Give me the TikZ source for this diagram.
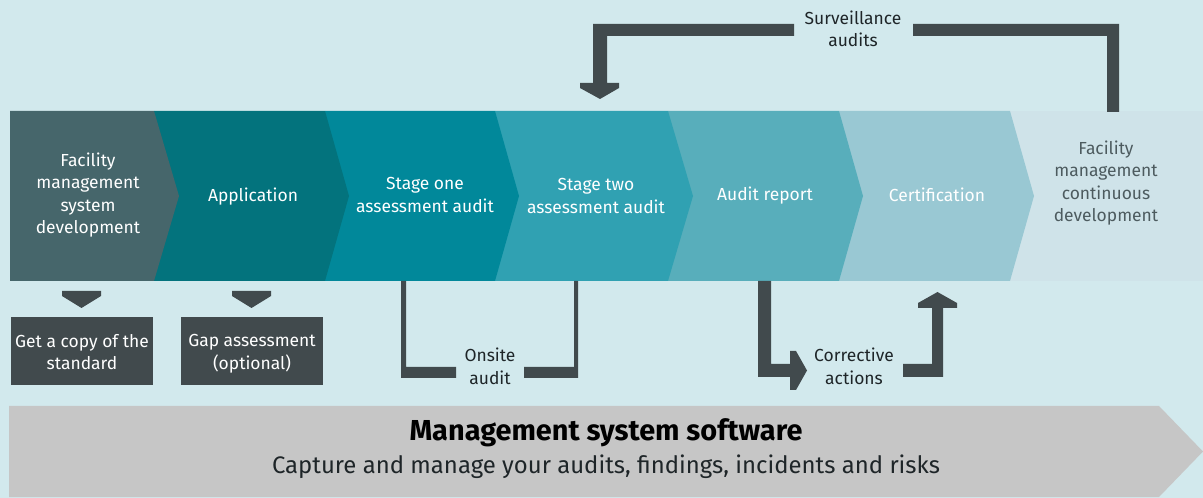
\documentclass[tikz,border=0pt]{standalone}
\usepackage{fontspec}
\setmainfont{Fira Sans}
\definecolor{bg}{HTML}{D2E9ED}
\definecolor{cA}{HTML}{46666B}
\definecolor{cB}{HTML}{03737D}
\definecolor{cC}{HTML}{01889A}
\definecolor{cD}{HTML}{30A1B2}
\definecolor{cE}{HTML}{58AEBB}
\definecolor{cF}{HTML}{99C8D3}
\definecolor{cG}{HTML}{CFE3E9}
\definecolor{darkbar}{HTML}{414A4D}
\definecolor{softgray}{HTML}{C6C6C6}
\definecolor{lasttext}{HTML}{4D5B5F}
\definecolor{labeltext}{HTML}{1E2528}
\begin{document}
\begin{tikzpicture}[x=1bp,y=-1bp,
  lbl/.style={inner sep=0pt,align=center,font=\fontsize{17.5}{22.7}\selectfont},
  wlbl/.style={lbl,text=white},
  boxlbl/.style={lbl,text=white},
  conlbl/.style={lbl,text=labeltext},
  barfill/.style={fill=darkbar}]
\useasboundingbox (0,0) rectangle (1203,498);
\fill[bg] (0,0) rectangle (1203,498);
% chevron band (drawn right to left)
\fill[cG] (1010,111) -- (1203,111) -- (1203,281) -- (1010,281) -- cycle;
\fill[cF] (839,111) -- (1010,111) -- (1034,196) -- (1010,281) -- (839,281) -- cycle;
\fill[cE] (668,111) -- (839,111) -- (863,196) -- (839,281) -- (668,281) -- cycle;
\fill[cD] (495,111) -- (668,111) -- (693,196) -- (668,281) -- (495,281) -- cycle;
\fill[cC] (325,111) -- (495,111) -- (519,196) -- (495,281) -- (325,281) -- cycle;
\fill[cB] (154,111) -- (325,111) -- (349,196) -- (325,281) -- (154,281) -- cycle;
\fill[cA] (10,111) -- (154,111) -- (179,196) -- (154,281) -- (10,281) -- cycle;
% stage labels
\node[wlbl] (t1) at (88,195) {Facility\\management\\system\\development};
\node[wlbl] (t2) at (253,197) {Application};
\node[wlbl] (t3) at (425,195) {Stage one\\assessment audit};
\node[wlbl] (t4) at (596,196) {Stage two\\assessment audit};
\node[wlbl] (t5) at (765,196) {Audit report};
\node[wlbl] (t6) at (937,195) {Certification};
\node[lbl,text=lasttext] (t7) at (1106,183) {Facility\\management\\continuous\\development};
% small down arrows and boxes
\fill[darkbar] (62,291) -- (101,291) -- (101,296) -- (81.5,308) -- (62,296) -- cycle;
\fill[darkbar] (232,291) -- (271,291) -- (271,296) -- (251.5,308) -- (232,296) -- cycle;
\node[fill=darkbar,minimum width=142bp,minimum height=68bp,inner sep=0pt] (b1) at (82,351) {};
\node[fill=darkbar,minimum width=142bp,minimum height=68bp,inner sep=0pt] (b2) at (252,351) {};
\node[boxlbl] (b1t) at ([yshift=-1bp]b1.center) {Get a copy of the\\standard};
\node[boxlbl] (b2t) at ([yshift=-3bp]b2.center) {Gap assessment\\(optional)};
% onsite audit bracket
\fill[darkbar] (401,281) -- (406,281) -- (406,367) -- (456,367) -- (456,378) -- (401,378) -- cycle;
\fill[darkbar] (574,281) -- (578,281) -- (578,378) -- (524,378) -- (524,367) -- (574,367) -- cycle;
\node[conlbl] (onsite) at (490,366) {Onsite\\audit};
% corrective actions
\fill[darkbar] (758,281) -- (771,281) -- (771,364) -- (790,364) -- (790,351) -- (796,351) -- (807,370.5) -- (796,390) -- (790,390) -- (790,377) -- (758,377) -- cycle;
\fill[darkbar] (903,364) -- (932,364) -- (932,308) -- (918,308) -- (918,303) -- (937.5,292) -- (957,303) -- (957,308) -- (943,308) -- (943,377) -- (903,377) -- cycle;
\node[conlbl] (corr) at (854,366) {Corrective\\actions};
% surveillance audits
\fill[darkbar] (794,24) -- (593,24) -- (593,83) -- (580,83) -- (580,88) -- (600,99) -- (619,88) -- (619,83) -- (607,83) -- (607,36) -- (794,36) -- cycle;
\fill[darkbar] (913,24) -- (1119,24) -- (1119,112) -- (1107,112) -- (1107,36) -- (913,36) -- cycle;
\node[conlbl] (surv) at (853,29) {Surveillance\\audits};
% bottom band
\fill[softgray] (9,406) -- (1159,406) -- (1203,451.5) -- (1159,497) -- (9,497) -- cycle;
\node[inner sep=0pt,font=\fontsize{29}{34}\selectfont\bfseries,text=black] (sw) at (606,433) {Management system software};
\node[inner sep=0pt,font=\fontsize{24}{28}\selectfont,text=labeltext] (cap) at (606,467) {Capture and manage your audits, findings, incidents and risks};
\end{tikzpicture}
\end{document}
